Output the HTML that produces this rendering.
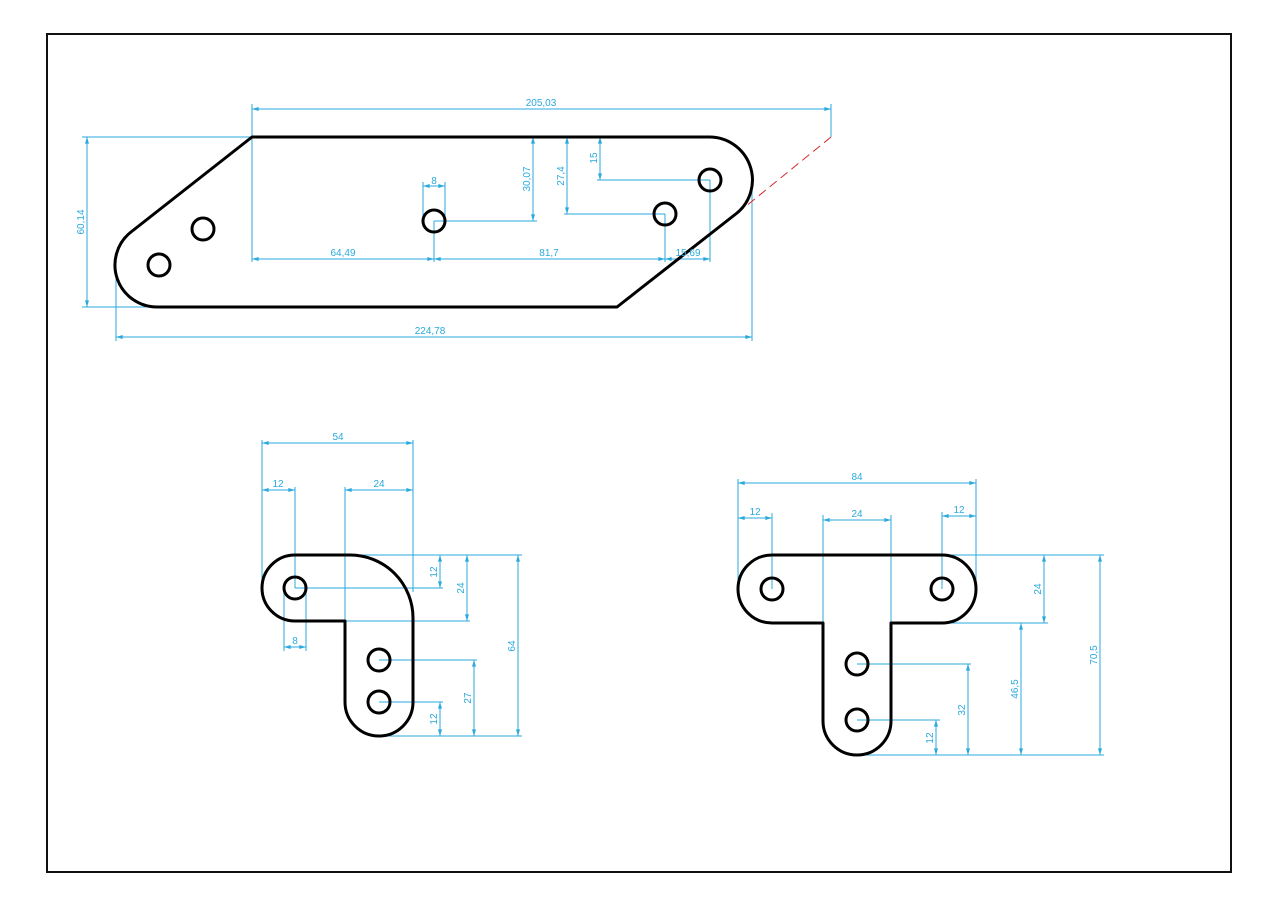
<!DOCTYPE html>
<html><head><meta charset="utf-8"><style>
html,body{margin:0;padding:0;background:#fff;}
svg{display:block;}
text{font-family:"Liberation Sans",sans-serif;font-size:10px;fill:#2aa9dc;}
</style></head><body>
<svg width="1280" height="905" viewBox="0 0 1280 905" xmlns="http://www.w3.org/2000/svg">
<defs>
<marker id="a" viewBox="0 0 10 6" refX="10" refY="3" markerWidth="8" markerHeight="4" orient="auto-start-reverse" markerUnits="userSpaceOnUse"><path d="M0,0 L10,3 L0,6 z" fill="#2aa9dc"/></marker>
</defs>
<rect x="47" y="34" width="1184" height="838" fill="none" stroke="#111" stroke-width="2"/>

<g fill="none" stroke="#2aa9dc" stroke-width="1">
<!-- Part 1 extension lines -->
<line x1="252" y1="104" x2="252" y2="262"/>
<line x1="831" y1="104" x2="831" y2="137"/>
<line x1="82" y1="137" x2="252" y2="137"/>
<line x1="82" y1="307" x2="158" y2="307"/>
<line x1="116" y1="265" x2="116" y2="341"/>
<line x1="752" y1="185" x2="752" y2="341"/>
<line x1="434" y1="221" x2="434" y2="262"/>
<line x1="665" y1="214" x2="665" y2="262"/>
<line x1="710" y1="180" x2="710" y2="262"/>
<line x1="423" y1="182" x2="423" y2="221"/>
<line x1="445" y1="182" x2="445" y2="221"/>
<line x1="434" y1="221" x2="537" y2="221"/>
<line x1="564" y1="214" x2="665" y2="214"/>
<line x1="597" y1="180" x2="710" y2="180"/>
<!-- Part 1 dim lines -->
<line x1="252" y1="109" x2="831" y2="109" marker-start="url(#a)" marker-end="url(#a)"/>
<line x1="87" y1="137" x2="87" y2="307" marker-start="url(#a)" marker-end="url(#a)"/>
<line x1="116" y1="337" x2="752" y2="337" marker-start="url(#a)" marker-end="url(#a)"/>
<line x1="252" y1="259" x2="434" y2="259" marker-start="url(#a)" marker-end="url(#a)"/>
<line x1="434" y1="259" x2="665" y2="259" marker-start="url(#a)" marker-end="url(#a)"/>
<line x1="665" y1="259" x2="710" y2="259" marker-start="url(#a)" marker-end="url(#a)"/>
<line x1="423" y1="186" x2="445" y2="186" marker-start="url(#a)" marker-end="url(#a)"/>
<line x1="533" y1="137" x2="533" y2="221" marker-start="url(#a)" marker-end="url(#a)"/>
<line x1="567" y1="137" x2="567" y2="214" marker-start="url(#a)" marker-end="url(#a)"/>
<line x1="600" y1="137" x2="600" y2="180" marker-start="url(#a)" marker-end="url(#a)"/>

<!-- Part 2 -->
<line x1="262" y1="440" x2="262" y2="588"/>
<line x1="413" y1="440" x2="413" y2="592"/>
<line x1="295" y1="487" x2="295" y2="588"/>
<line x1="345" y1="487" x2="345" y2="621"/>
<line x1="284" y1="588" x2="284" y2="651"/>
<line x1="306" y1="588" x2="306" y2="651"/>
<line x1="350" y1="555" x2="522" y2="555"/>
<line x1="295" y1="588" x2="443" y2="588"/>
<line x1="345" y1="621" x2="470" y2="621"/>
<line x1="379" y1="660" x2="477" y2="660"/>
<line x1="379" y1="702" x2="443" y2="702"/>
<line x1="379" y1="736" x2="522" y2="736"/>
<line x1="262" y1="443" x2="413" y2="443" marker-start="url(#a)" marker-end="url(#a)"/>
<line x1="262" y1="490" x2="295" y2="490" marker-start="url(#a)" marker-end="url(#a)"/>
<line x1="345" y1="490" x2="413" y2="490" marker-start="url(#a)" marker-end="url(#a)"/>
<line x1="284" y1="647" x2="306" y2="647" marker-start="url(#a)" marker-end="url(#a)"/>
<line x1="440" y1="555" x2="440" y2="588" marker-start="url(#a)" marker-end="url(#a)"/>
<line x1="467" y1="555" x2="467" y2="621" marker-start="url(#a)" marker-end="url(#a)"/>
<line x1="518" y1="555" x2="518" y2="736" marker-start="url(#a)" marker-end="url(#a)"/>
<line x1="474" y1="660" x2="474" y2="736" marker-start="url(#a)" marker-end="url(#a)"/>
<line x1="440" y1="702" x2="440" y2="736" marker-start="url(#a)" marker-end="url(#a)"/>

<!-- Part 3 -->
<line x1="738" y1="479" x2="738" y2="589"/>
<line x1="976" y1="479" x2="976" y2="589"/>
<line x1="772" y1="513" x2="772" y2="589"/>
<line x1="823" y1="515" x2="823" y2="623"/>
<line x1="891" y1="515" x2="891" y2="623"/>
<line x1="942" y1="512" x2="942" y2="589"/>
<line x1="942" y1="555" x2="1104" y2="555"/>
<line x1="942" y1="623" x2="1048" y2="623"/>
<line x1="857" y1="664" x2="971" y2="664"/>
<line x1="857" y1="720" x2="940" y2="720"/>
<line x1="857" y1="755" x2="1104" y2="755"/>
<line x1="738" y1="483" x2="976" y2="483" marker-start="url(#a)" marker-end="url(#a)"/>
<line x1="738" y1="518" x2="772" y2="518" marker-start="url(#a)" marker-end="url(#a)"/>
<line x1="823" y1="520" x2="891" y2="520" marker-start="url(#a)" marker-end="url(#a)"/>
<line x1="942" y1="516" x2="976" y2="516" marker-start="url(#a)" marker-end="url(#a)"/>
<line x1="1044" y1="555" x2="1044" y2="623" marker-start="url(#a)" marker-end="url(#a)"/>
<line x1="1100" y1="555" x2="1100" y2="755" marker-start="url(#a)" marker-end="url(#a)"/>
<line x1="1021" y1="623" x2="1021" y2="755" marker-start="url(#a)" marker-end="url(#a)"/>
<line x1="968" y1="664" x2="968" y2="755" marker-start="url(#a)" marker-end="url(#a)"/>
<line x1="936" y1="720" x2="936" y2="755" marker-start="url(#a)" marker-end="url(#a)"/>
</g>

<line x1="831" y1="137" x2="740" y2="211" stroke="#d42a2a" stroke-width="1" stroke-dasharray="9,5"/>

<g fill="none" stroke="#000" stroke-width="3" stroke-linejoin="round">
<path d="M252,137 L709,137 A43,43 0 0 1 737,213 L617,307 L158,307 A42,42 0 0 1 131,232 Z"/>
<circle cx="159" cy="265" r="11"/>
<circle cx="203" cy="229" r="11"/>
<circle cx="434" cy="221" r="11"/>
<circle cx="665" cy="214" r="11"/>
<circle cx="710" cy="180" r="11"/>

<path d="M295,555 L350,555 A63,63 0 0 1 413,618 L413,702 A34,34 0 0 1 345,702 L345,621 L295,621 A33,33 0 0 1 295,555 Z"/>
<circle cx="295" cy="588" r="11"/>
<circle cx="379" cy="660" r="11"/>
<circle cx="379" cy="702" r="11"/>

<path d="M772,555 L942,555 A34,34 0 0 1 942,623 L891,623 L891,721 A34,34 0 0 1 823,721 L823,623 L772,623 A34,34 0 0 1 772,555 Z"/>
<circle cx="772" cy="589" r="11"/>
<circle cx="942" cy="589" r="11"/>
<circle cx="857" cy="664" r="11"/>
<circle cx="857" cy="720" r="11"/>
</g>

<!-- labels -->
<text x="541" y="106" text-anchor="middle">205,03</text>
<text x="430" y="334" text-anchor="middle">224,78</text>
<text x="343" y="256" text-anchor="middle">64,49</text>
<text x="549" y="256" text-anchor="middle">81,7</text>
<text x="688" y="256" text-anchor="middle">15,69</text>
<text x="434" y="184" text-anchor="middle">8</text>
<text transform="translate(84,222) rotate(-90)" text-anchor="middle">60,14</text>
<text transform="translate(530,179) rotate(-90)" text-anchor="middle">30,07</text>
<text transform="translate(564,176) rotate(-90)" text-anchor="middle">27,4</text>
<text transform="translate(597,158) rotate(-90)" text-anchor="middle">15</text>

<text x="338" y="440" text-anchor="middle">54</text>
<text x="278" y="487" text-anchor="middle">12</text>
<text x="379" y="487" text-anchor="middle">24</text>
<text x="295" y="644" text-anchor="middle">8</text>
<text transform="translate(437,572) rotate(-90)" text-anchor="middle">12</text>
<text transform="translate(464,588) rotate(-90)" text-anchor="middle">24</text>
<text transform="translate(515,646) rotate(-90)" text-anchor="middle">64</text>
<text transform="translate(471,698) rotate(-90)" text-anchor="middle">27</text>
<text transform="translate(437,719) rotate(-90)" text-anchor="middle">12</text>

<text x="857" y="480" text-anchor="middle">84</text>
<text x="755" y="515" text-anchor="middle">12</text>
<text x="857" y="517" text-anchor="middle">24</text>
<text x="959" y="513" text-anchor="middle">12</text>
<text transform="translate(1041,589) rotate(-90)" text-anchor="middle">24</text>
<text transform="translate(1097,655) rotate(-90)" text-anchor="middle">70,5</text>
<text transform="translate(1018,689) rotate(-90)" text-anchor="middle">46,5</text>
<text transform="translate(965,710) rotate(-90)" text-anchor="middle">32</text>
<text transform="translate(933,738) rotate(-90)" text-anchor="middle">12</text>
</svg>
</body></html>
